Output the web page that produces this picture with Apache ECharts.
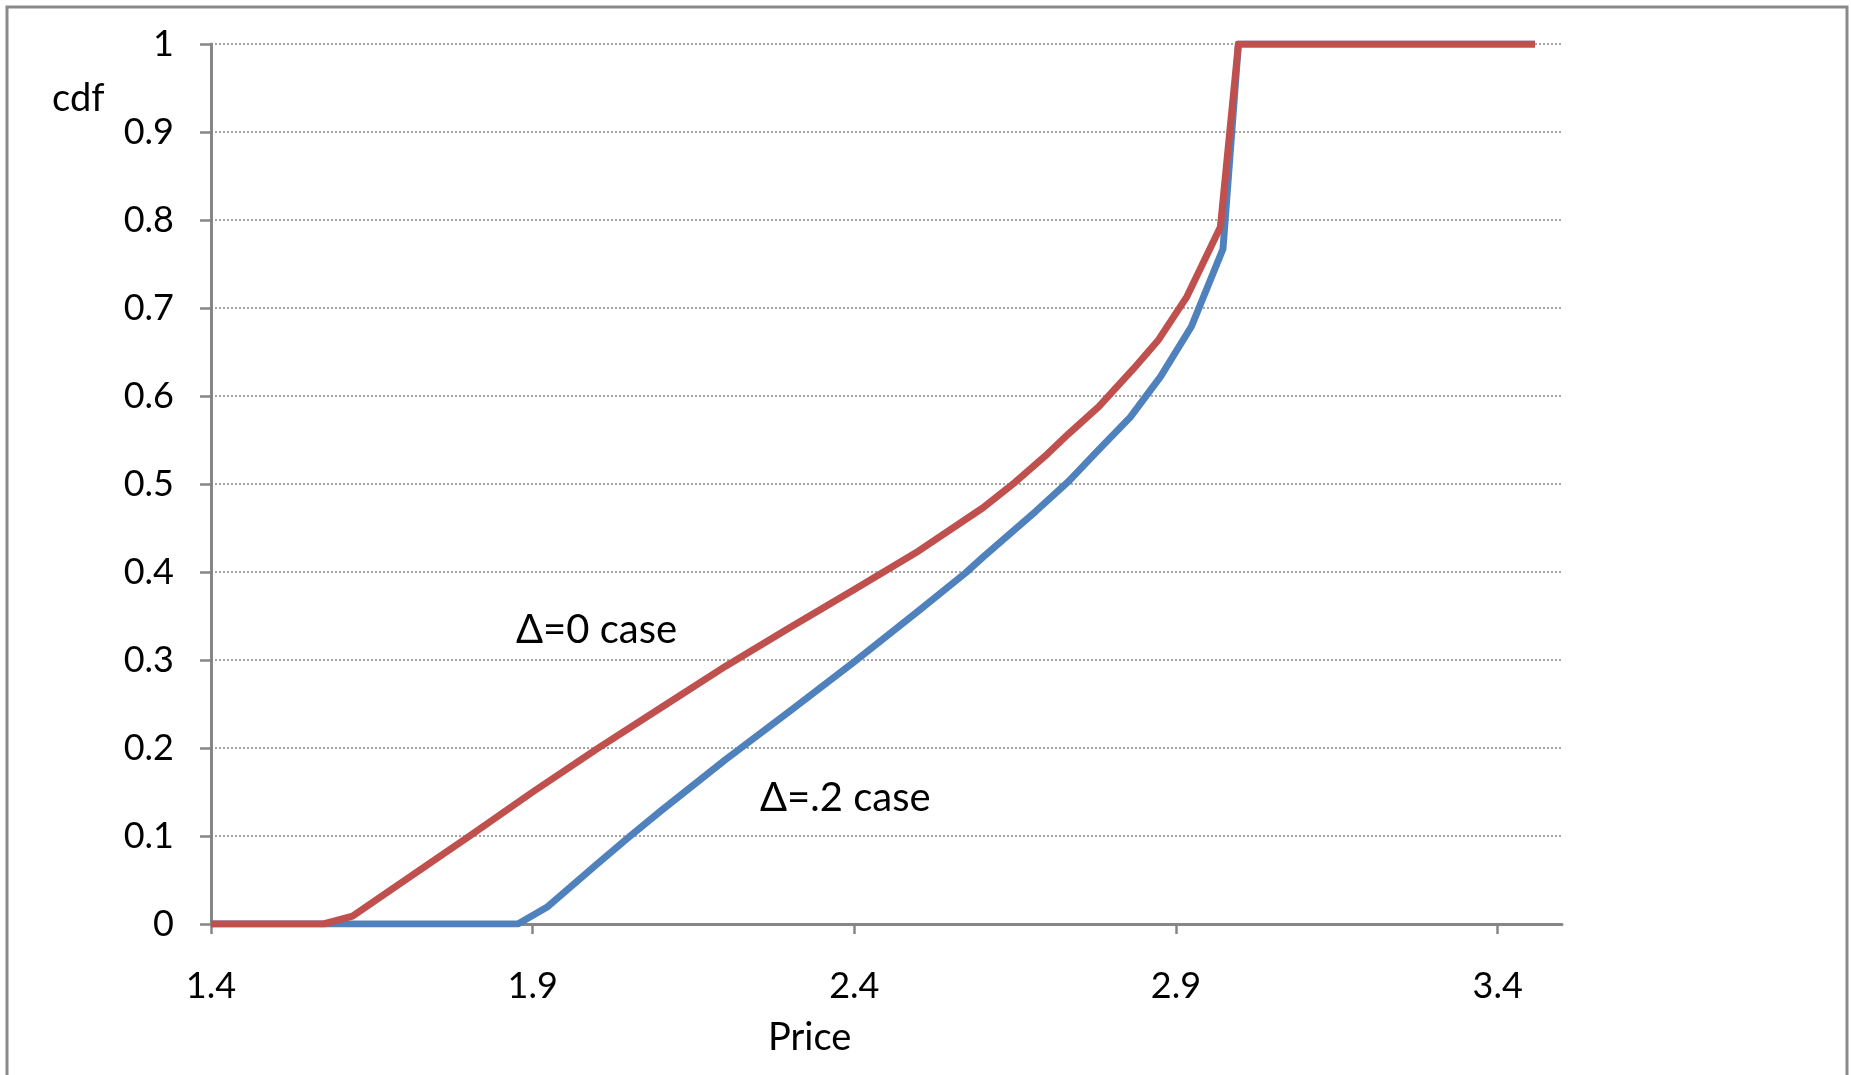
<!DOCTYPE html>
<html>
<head>
<meta charset="utf-8">
<title>cdf of price</title>
<script src="https://cdn.jsdelivr.net/npm/echarts@6/dist/echarts.min.js"></script>
<style>
  html, body { margin: 0; padding: 0; background: #fff; }
  #chart { width: 1851px; height: 1075px; }
</style>
</head>
<body>
<div id="chart"></div>
<script>
// price ticks shown on the horizontal axis
const priceTicks = [1.4, 1.9, 2.4, 2.9, 3.4];

// Δ=.2 case (blue)
const blueX = [1.4, 1.877, 1.922, 2.0, 2.05, 2.1, 2.2, 2.3, 2.4, 2.5, 2.573, 2.6, 2.682, 2.733, 2.78, 2.829, 2.876, 2.924, 2.973, 2.997, 3.458];
const blueY = [0, 0, 0.019, 0.068, 0.099, 0.129, 0.187, 0.242, 0.298, 0.356, 0.399, 0.417, 0.469, 0.503, 0.539, 0.576, 0.622, 0.679, 0.767, 1, 1];

// Δ=0 case (red)
const redX = [1.4, 1.575, 1.62, 1.7, 1.8, 1.9, 2.0, 2.1, 2.2, 2.3, 2.4, 2.5, 2.6, 2.65, 2.7, 2.733, 2.78, 2.834, 2.873, 2.917, 2.969, 2.997, 3.458];
const redY = [0, 0, 0.009, 0.049, 0.099, 0.150, 0.199, 0.246, 0.293, 0.337, 0.380, 0.424, 0.473, 0.502, 0.534, 0.557, 0.588, 0.631, 0.664, 0.713, 0.792, 1, 1];

const zip = (xs, ys) => xs.map((x, i) => [x, ys[i]]);

const font = 'Lato, "Open Sans", sans-serif';
const axisGray = '#868686';

const chart = echarts.init(document.getElementById('chart'));

const option = {
  animation: false,
  backgroundColor: '#fff',
  grid: {
    left: 211,
    right: 289,
    top: 44,
    bottom: 151
  },
  xAxis: {
    type: 'value',
    min: 1.4,
    max: 3.5,
    axisLine: { show: true, lineStyle: { color: axisGray, width: 3 } },
    axisTick: {
      show: true,
      customValues: priceTicks,
      length: 10,
      lineStyle: { color: axisGray, width: 2.5 }
    },
    axisLabel: {
      customValues: priceTicks,
      margin: 44,
      color: '#000',
      fontFamily: font,
      fontSize: 36,
      formatter: v => v.toFixed(1)
    },
    splitLine: { show: false }
  },
  yAxis: {
    type: 'value',
    min: 0,
    max: 1,
    interval: 0.1,
    axisLine: { show: true, lineStyle: { color: axisGray, width: 3 } },
    axisTick: { show: true, length: 11, lineStyle: { color: axisGray, width: 2.5 } },
    axisLabel: {
      margin: 37,
      color: '#000',
      fontFamily: font,
      fontSize: 36,
      formatter: v => String(Math.round(v * 10) / 10)
    },
    splitLine: {
      show: true,
      lineStyle: { color: '#888', width: 1.5, type: [2, 2] }
    }
  },
  series: [
    {
      name: 'Δ=.2 case',
      type: 'line',
      showSymbol: false,
      data: zip(blueX, blueY),
      lineStyle: { color: '#4F81BD', width: 7, join: 'round' },
      z: 2
    },
    {
      name: 'Δ=0 case',
      type: 'line',
      showSymbol: false,
      data: zip(redX, redY),
      lineStyle: { color: '#C0504D', width: 7, join: 'round' },
      z: 3
    }
  ],
  graphic: [
    {
      type: 'rect',
      silent: true,
      shape: { x: 7, y: 7, width: 1840, height: 1120 },
      style: { fill: null, stroke: '#8a8a8a', lineWidth: 3 }
    },
    {
      type: 'text',
      x: 52, y: 99,
      style: { text: 'cdf', font: '38px ' + font, fill: '#000', verticalAlign: 'middle' }
    },
    {
      type: 'text',
      x: 768, y: 1038,
      style: { text: 'Price', font: '38px ' + font, fill: '#000', verticalAlign: 'middle' }
    },
    {
      type: 'text',
      x: 516, y: 630,
      style: { text: 'Δ=0 case', font: '40px ' + font, fill: '#000', verticalAlign: 'middle' }
    },
    {
      type: 'text',
      x: 760, y: 798,
      style: { text: 'Δ=.2 case', font: '40px ' + font, fill: '#000', verticalAlign: 'middle' }
    }
  ]
};

chart.setOption(option);
</script>
</body>
</html>
